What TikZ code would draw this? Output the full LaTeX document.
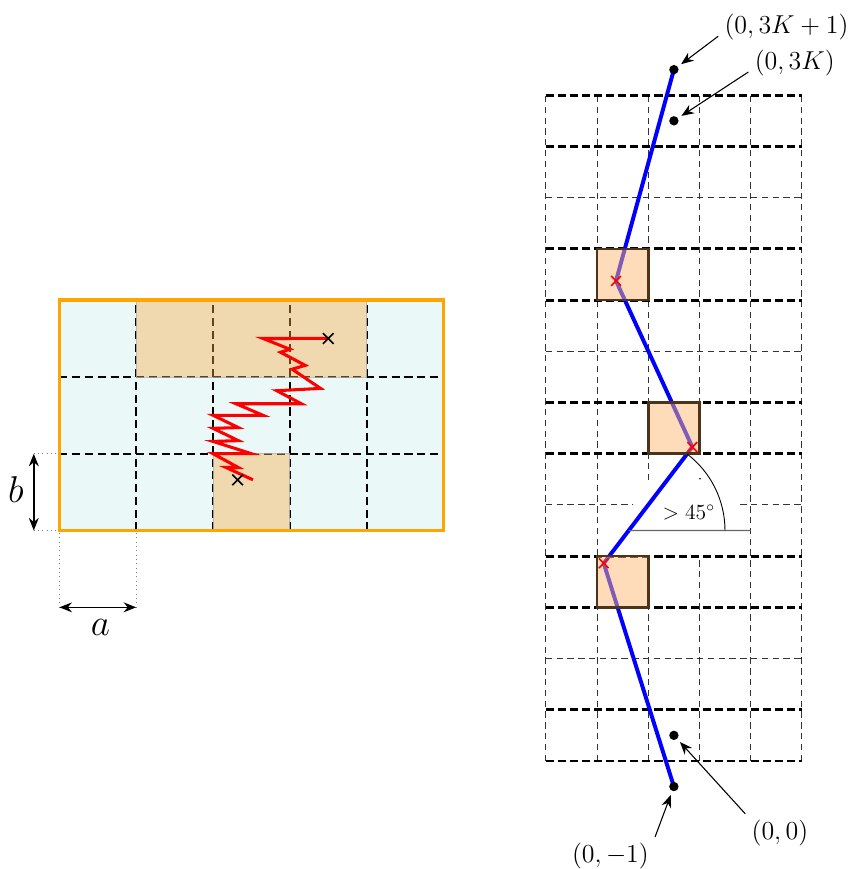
\documentclass[tikz,border=0pt]{standalone}
\usepackage{amsmath,amssymb}
\usepackage{xcolor}
\usepackage{tikz}
\usetikzlibrary{arrows.meta, shapes.misc, calc}

\definecolor{cellcyan}{RGB}{234,248,248}
\definecolor{celltan}{RGB}{249,170,66}
\definecolor{rimorange}{RGB}{255,165,0}

\begin{document}
\begin{tikzpicture}[>={Stealth[length=7pt,width=5.5pt]},
		cellrule/.style={line width=1.1pt, dash pattern=on 4.5pt off 2.6pt},
		finerule/.style={line width=0.6pt, black!80, dash pattern=on 3.5pt off 2.5pt},
		heavyrule/.style={line width=1.6pt, dash pattern=on 4.5pt off 2.2pt},
		xmark/.style={cross out, draw, line width=0.9pt, minimum size=5pt, inner sep=0pt},
		visited/.style={fill=celltan, fill opacity=0.4, draw=gray!60, draw opacity=0.8},
		blocker/.style={fill=orange!55, fill opacity=0.5, draw=brown!40!black, line width=1.5pt},
		font=\Large]
	\useasboundingbox (-10.66,-2.11) rectangle (5.98,14.86);
	
	% left block: 5 x 3 cells of side a = b
	\begin{scope}[shift={(-9.5,4.5)}, scale=1.5]
		\fill[cellcyan] (0,0) rectangle (5,3);
		\foreach \x in {1,...,4}
		\draw[cellrule] (\x,0) -- (\x,3);
		\foreach \y in {1,2}
		\draw[cellrule] (0,\y) -- (5,\y);
		% cells the walk passes through
		\filldraw[visited] (1,2) rectangle (4,3);
		\filldraw[visited] (2,0) rectangle (3,1);
		\draw[rimorange, line width=1.8pt] (0,0) rectangle (5,3);
		% the walk
		\coordinate (wtop) at (3.5,2.5);
		\coordinate (wlow) at (2.32,0.66);
		\draw[red, line width=1.7pt] (wtop) -- (2.65,2.5) -- (3.0,2.36) -- (2.88,2.32)
		-- (3.2,2.15) -- (3.03,2.1) -- (3.4,1.85) -- (2.83,1.82) -- (3.15,1.65)
		-- (2.3,1.65) -- (2.65,1.5) -- (2,1.5) -- (2.33,1.34) -- (2,1.33)
		-- (2.33,1.17) -- (2,1.16) -- (2.5,1) -- (2,1) -- (2.33,0.82)
		-- (2.17,0.82) -- (2.52,0.66);
		\node[xmark] (xhigh) at (wtop) {};
		\node[xmark] (xlow) at (wlow) {};
	\end{scope}
	
	% side lengths
	\coordinate (bup) at (-10,6);
	\coordinate (blo) at (-10,4.5);
	\coordinate (aleft) at (-9.5,3);
	\coordinate (aright) at (-8,3);
	\draw[dotted, gray] (bup) -- (-9.5,6);
	\draw[dotted, gray] (blo) -- (-9.5,4.5);
	\draw[dotted, gray] (aleft) -- (-9.5,4.5);
	\draw[dotted, gray] (aright) -- (-8,4.5);
	\draw[<->, line width=0.8pt] (blo) -- (bup);
	\draw[<->, line width=0.8pt] (aleft) -- (aright);
	\node[font=\huge] (blab) at (-10.35,5.3) {$b$};
	\node[font=\huge] (alab) at (-8.7,2.6) {$a$};
	
	% right strip: columns 0..5, rows 0..13
	\foreach \x in {0,...,5}
	\draw[finerule] (\x,0) -- (\x,13);
	\foreach \y in {2,5,8,11}
	\draw[finerule] (0,\y) -- (5,\y);
	\fill[white] (1.7,5) -- (2,5.4) -- (3,6) -- (3.75,6) -- (3.75,4) -- (2,4)
	-- (1.7,4.5) -- cycle;
	\foreach \y in {0,1,3,4,6,7,9,10,12,13}
	\draw[heavyrule] (0,\y) -- (5,\y);
	
	% lattice points and turning points of the path
	\coordinate (pbot) at (2.5,-0.5);
	\coordinate (porig) at (2.5,0.5);
	\coordinate (ptopk) at (2.5,12.5);
	\coordinate (ptop) at (2.5,13.5);
	\coordinate (t1) at (1.13,3.86);
	\coordinate (t2) at (2.86,6.13);
	\coordinate (t3) at (1.37,9.375);
	\draw[blue, line width=2.2pt, line join=round] (pbot) -- (t1) -- (t2) -- (t3) -- (ptop);
	
	% blocking cells
	\filldraw[blocker] (1,3) rectangle (2,4);
	\filldraw[blocker] (2,6) rectangle (3,7);
	\filldraw[blocker] (1,9) rectangle (2,10);
	\node[xmark, red, minimum size=4.5pt] (c1) at (t1) {};
	\node[xmark, red, minimum size=4.5pt] (c2) at (t2) {};
	\node[xmark, red, minimum size=4.5pt] (c3) at (t3) {};
	\foreach \p in {pbot,porig,ptopk,ptop}
	\fill (\p) circle (2.6pt);
	
	% angle of the middle segment
	\coordinate (apex) at ($(t1)!0.282!(t2)$);
	\coordinate (aend) at (4,4.5);
	\draw[gray!80!black, line width=0.6pt] (apex) -- (aend);
	\draw[line width=0.5pt] ($(apex)+(1.88,0)$) arc[start angle=0, end angle=52.7, radius=1.88];
	\fill ($(apex)+(36:1.72)$) circle (0.5pt);
	\node[font=\large] (anglab) at (2.79,4.85) {$>45^\circ$};
	
	% labels of the lattice points
	\node (lab-top) at (4.70,14.34) {$(0,3K+1)$};
	\node (lab-topk) at (4.86,13.63) {$(0,3K)$};
	\node (lab-orig) at (4.57,-1.41) {$(0,0)$};
	\node (lab-bot) at (1.26,-1.86) {$(0,-1)$};
	\draw[->, line width=0.6pt, shorten >=5pt] (lab-top.188) -- (ptop);
	\draw[->, line width=0.6pt, shorten >=5pt] (lab-topk.191) -- (ptopk);
	\draw[->, line width=0.6pt, shorten >=5pt] (lab-orig.north west) -- (porig);
	\draw[->, line width=0.6pt, shorten >=5pt] (lab-bot.north east) -- (pbot);
\end{tikzpicture}
\end{document}
